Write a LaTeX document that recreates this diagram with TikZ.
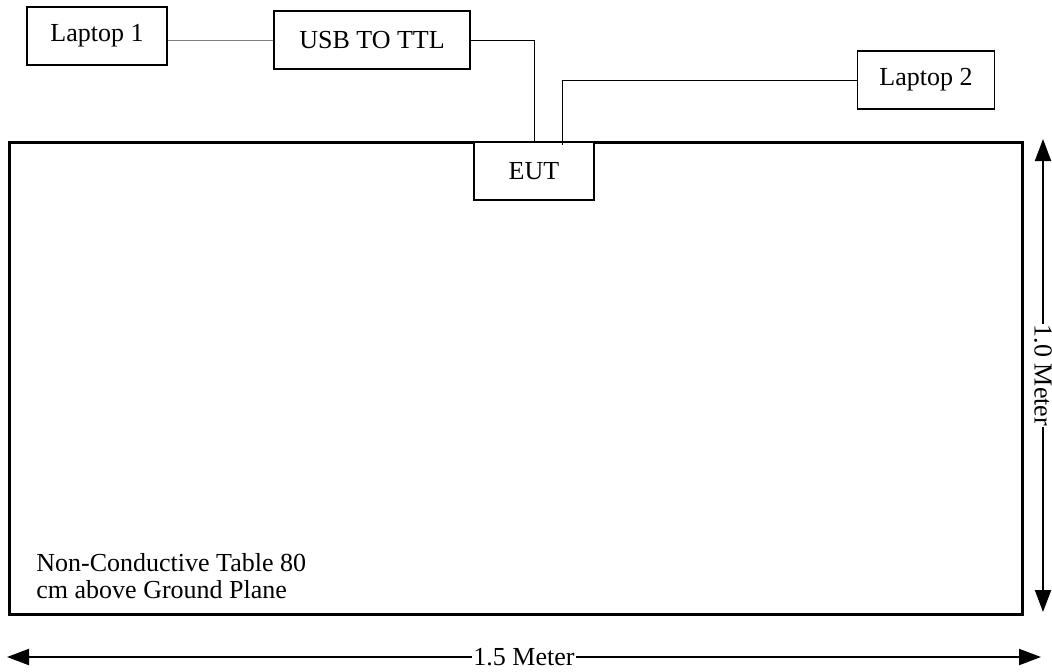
\documentclass[tikz,border=0pt]{standalone}
\usepackage{fontspec}
\setmainfont{Liberation Serif}
\usetikzlibrary{arrows.meta}

\tikzset{
  unit/.style={draw,thick,minimum height=29pt,inner sep=0pt,font=\fontsize{13}{14}\selectfont},
  wire/.style={line width=0.5pt},
  span/.style={line width=1pt,{Triangle[length=11pt,width=8pt]}-{Triangle[length=11pt,width=8pt]}},
  spanlab/.style={fill=white,inner sep=0.5pt,font=\fontsize{13}{14}\selectfont}
}

\begin{document}
\begin{tikzpicture}[x=0.5pt,y=-0.5pt]
  \useasboundingbox (0,0) rectangle (1052,671);

  % the table
  \draw[line width=1.5pt] (9,142) rectangle (1022,614);
  \node[anchor=north west,align=left,inner sep=0pt,font=\fontsize{13}{13.5}\selectfont]
    (tabletext) at (36,553) {Non-Conductive Table 80\\cm above Ground Plane};

  % units
  \node[unit,minimum width=70pt] (laptopA) at (97,36) {Laptop 1};
  \node[unit,minimum width=98pt] (usb) at (372,40) {USB TO TTL};
  \node[unit,minimum width=60pt,fill=white] (eut) at (534,171) {EUT};
  \node[unit,minimum width=68.5pt] (laptopB) at (926,80) {Laptop 2};

  % cables
  \draw[wire,gray] (laptopA.east |- usb.west) -- (usb.west);
  \draw[wire] (usb.east) -| (eut.north);
  \coordinate (plug) at (562,145);
  \draw[wire] (plug) |- (laptopB.west);

  % dimensions
  \coordinate (wL) at (7,657);
  \coordinate (wR) at (1041,657);
  \coordinate (hT) at (1043,139);
  \coordinate (hB) at (1043,612);
  \draw[span] (wL) -- node[spanlab] {1.5 Meter} (wR);
  \draw[span] (hT) -- node[spanlab,rotate=-90] {1.0 Meter} (hB);
\end{tikzpicture}
\end{document}
